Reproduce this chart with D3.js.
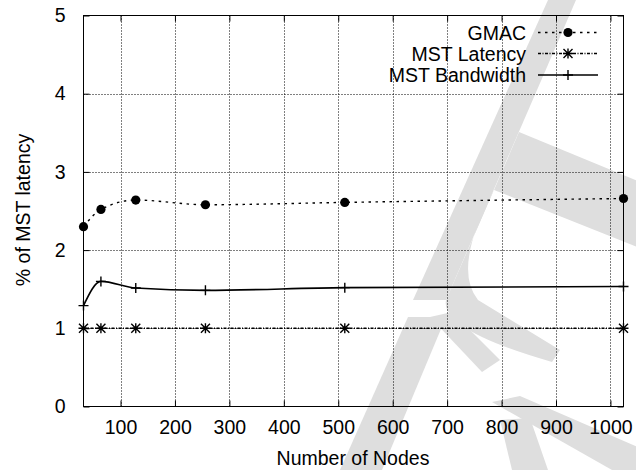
<!DOCTYPE html>
<html lang="en">
<head>
  <script src="https://d3js.org/d3.v7.min.js"></script>
  <style>
    body { margin: 0; background: #fff; }
    svg text { font-family: "Liberation Sans", Arial, Helvetica, sans-serif; font-size: 19.5px; fill: #000; }
  </style>
</head>
<body>
<script>
  // data
  const nodes = [32, 64, 128, 256, 512, 1024];
  const gmac = [2.30, 2.52, 2.64, 2.58, 2.61, 2.66];
  const mstLatency = [1, 1, 1, 1, 1, 1];
  const mstBandwidth = [1.29, 1.60, 1.515, 1.485, 1.52, 1.535];
  const xTicks = [100, 200, 300, 400, 500, 600, 700, 800, 900, 1000];
  const yTicks = [0, 1, 2, 3, 4, 5];
  const seriesNames = ["GMAC", "MST Latency", "MST Bandwidth"];

  const W = 636, H = 470;
  const pLeft = 83.5, pRight = 623.5, pTop = 15.5, pBottom = 406.5;

  const svg = d3.select("body").append("svg")
    .attr("width", W).attr("height", H);

  // light grey watermark behind the plot
  const marks = [
    "M548,0 L576,0 L446,300 L413,300 Z",
    "M519,132 L640,182 L640,248 L494,190 Z",
    "M494,190 Q452,268 478,300 L560,350 L552,362 Q440,330 446,300 Z",
    "M408,317 L446,317 L382,470 L340,470 Z",
    "M430,317 L452,312 L500,360 L482,372 Z",
    "M492,402 L520,396 L640,448 L640,470 L612,470 Z",
    "M500,420 L530,418 L548,470 L512,470 Z"
  ];
  svg.append("g").selectAll("path").data(marks).join("path")
    .attr("d", d => d).attr("fill", "#dedede");

  const x = d3.scaleLinear().domain([32, 1024]).range([pLeft, pRight]);
  const y = d3.scaleLinear().domain([0, 5]).range([pBottom, pTop]);

  // grid
  svg.append("g").selectAll("line").data(xTicks).join("line")
    .attr("x1", d => Math.round(x(d)) + 0.5).attr("x2", d => Math.round(x(d)) + 0.5)
    .attr("y1", pTop).attr("y2", pBottom)
    .attr("stroke", "#000").attr("stroke-width", 1).attr("stroke-dasharray", "1,2");
  svg.append("g").selectAll("line").data(yTicks.slice(1, -1)).join("line")
    .attr("x1", pLeft).attr("x2", pRight)
    .attr("y1", d => Math.round(y(d)) + 0.5).attr("y2", d => Math.round(y(d)) + 0.5)
    .attr("stroke", "#000").attr("stroke-width", 1).attr("stroke-dasharray", "1,2");

  // axes with inward ticks, mirrored on top and right
  const fmt = d3.format("d");
  const ax = (g, axis) => { g.call(axis); g.select(".domain").remove(); g.selectAll("line").attr("stroke", "#000"); };
  svg.append("g").attr("transform", `translate(0,${pBottom})`)
    .call(g => ax(g, d3.axisBottom(x).tickValues(xTicks).tickSize(-6).tickPadding(14).tickFormat(fmt)));
  svg.append("g").attr("transform", `translate(0,${pTop})`)
    .call(g => ax(g, d3.axisTop(x).tickValues(xTicks).tickSize(-6).tickFormat("")));
  svg.append("g").attr("transform", `translate(${pLeft},0)`)
    .call(g => ax(g, d3.axisLeft(y).tickValues(yTicks).tickSize(-6).tickPadding(18).tickFormat(fmt)));
  svg.append("g").attr("transform", `translate(${pRight},0)`)
    .call(g => ax(g, d3.axisRight(y).tickValues(yTicks).tickSize(-6).tickFormat("")));
  svg.selectAll(".tick text").style("font-size", "19.5px")
    .style("font-family", "'Liberation Sans', Arial, sans-serif").attr("fill", "#000");

  svg.append("rect").attr("x", pLeft).attr("y", pTop)
    .attr("width", pRight - pLeft).attr("height", pBottom - pTop)
    .attr("fill", "none").attr("stroke", "#000").attr("stroke-width", 1);

  // series
  const line = d3.line().x((d, i) => x(nodes[i])).y(d => y(d)).curve(d3.curveMonotoneX);
  const dashes = ["2.5,4.5", "3,1.5,1,1.5", null];
  const values = [gmac, mstLatency, mstBandwidth];
  values.forEach((v, k) => {
    svg.append("path").datum(v)
      .attr("d", line).attr("fill", "none").attr("stroke", "#000")
      .attr("stroke-width", k === 2 ? 1.6 : 1.4)
      .attr("stroke-dasharray", dashes[k]);
  });

  function marker(g, k, cx, cy) {
    if (k === 0) {
      g.append("circle").attr("cx", cx).attr("cy", cy).attr("r", 4.6).attr("fill", "#000");
    } else if (k === 1) {
      const s = 4.5;
      g.append("path")
        .attr("d", `M${cx - s},${cy - s}L${cx + s},${cy + s}M${cx - s},${cy + s}L${cx + s},${cy - s}M${cx - s - 0.5},${cy}H${cx + s + 0.5}M${cx},${cy - s - 0.5}V${cy + s + 0.5}`)
        .attr("stroke", "#000").attr("stroke-width", 1.4);
    } else {
      const s = 5;
      g.append("path")
        .attr("d", `M${cx - s},${cy}H${cx + s}M${cx},${cy - s}V${cy + s}`)
        .attr("stroke", "#000").attr("stroke-width", 1.4);
    }
  }
  values.forEach((v, k) => {
    const g = svg.append("g");
    v.forEach((d, i) => marker(g, k, x(nodes[i]), y(d)));
  });

  // legend
  const legY = [32.5, 53.5, 75];
  seriesNames.forEach((name, k) => {
    svg.append("text").attr("x", 526).attr("y", legY[k]).attr("dy", "0.36em")
      .attr("text-anchor", "end").text(name);
    svg.append("line").attr("x1", 538).attr("x2", 598)
      .attr("y1", legY[k]).attr("y2", legY[k])
      .attr("stroke", "#000").attr("stroke-width", k === 2 ? 1.6 : 1.4)
      .attr("stroke-dasharray", dashes[k]);
    marker(svg.append("g"), k, 568, legY[k]);
  });

  // axis titles
  svg.append("text").attr("x", 353).attr("y", 465).attr("text-anchor", "middle").text("Number of Nodes");
  svg.append("text").attr("transform", "translate(30,210) rotate(-90)")
    .attr("text-anchor", "middle").text("% of MST latency");
</script>
</body>
</html>
